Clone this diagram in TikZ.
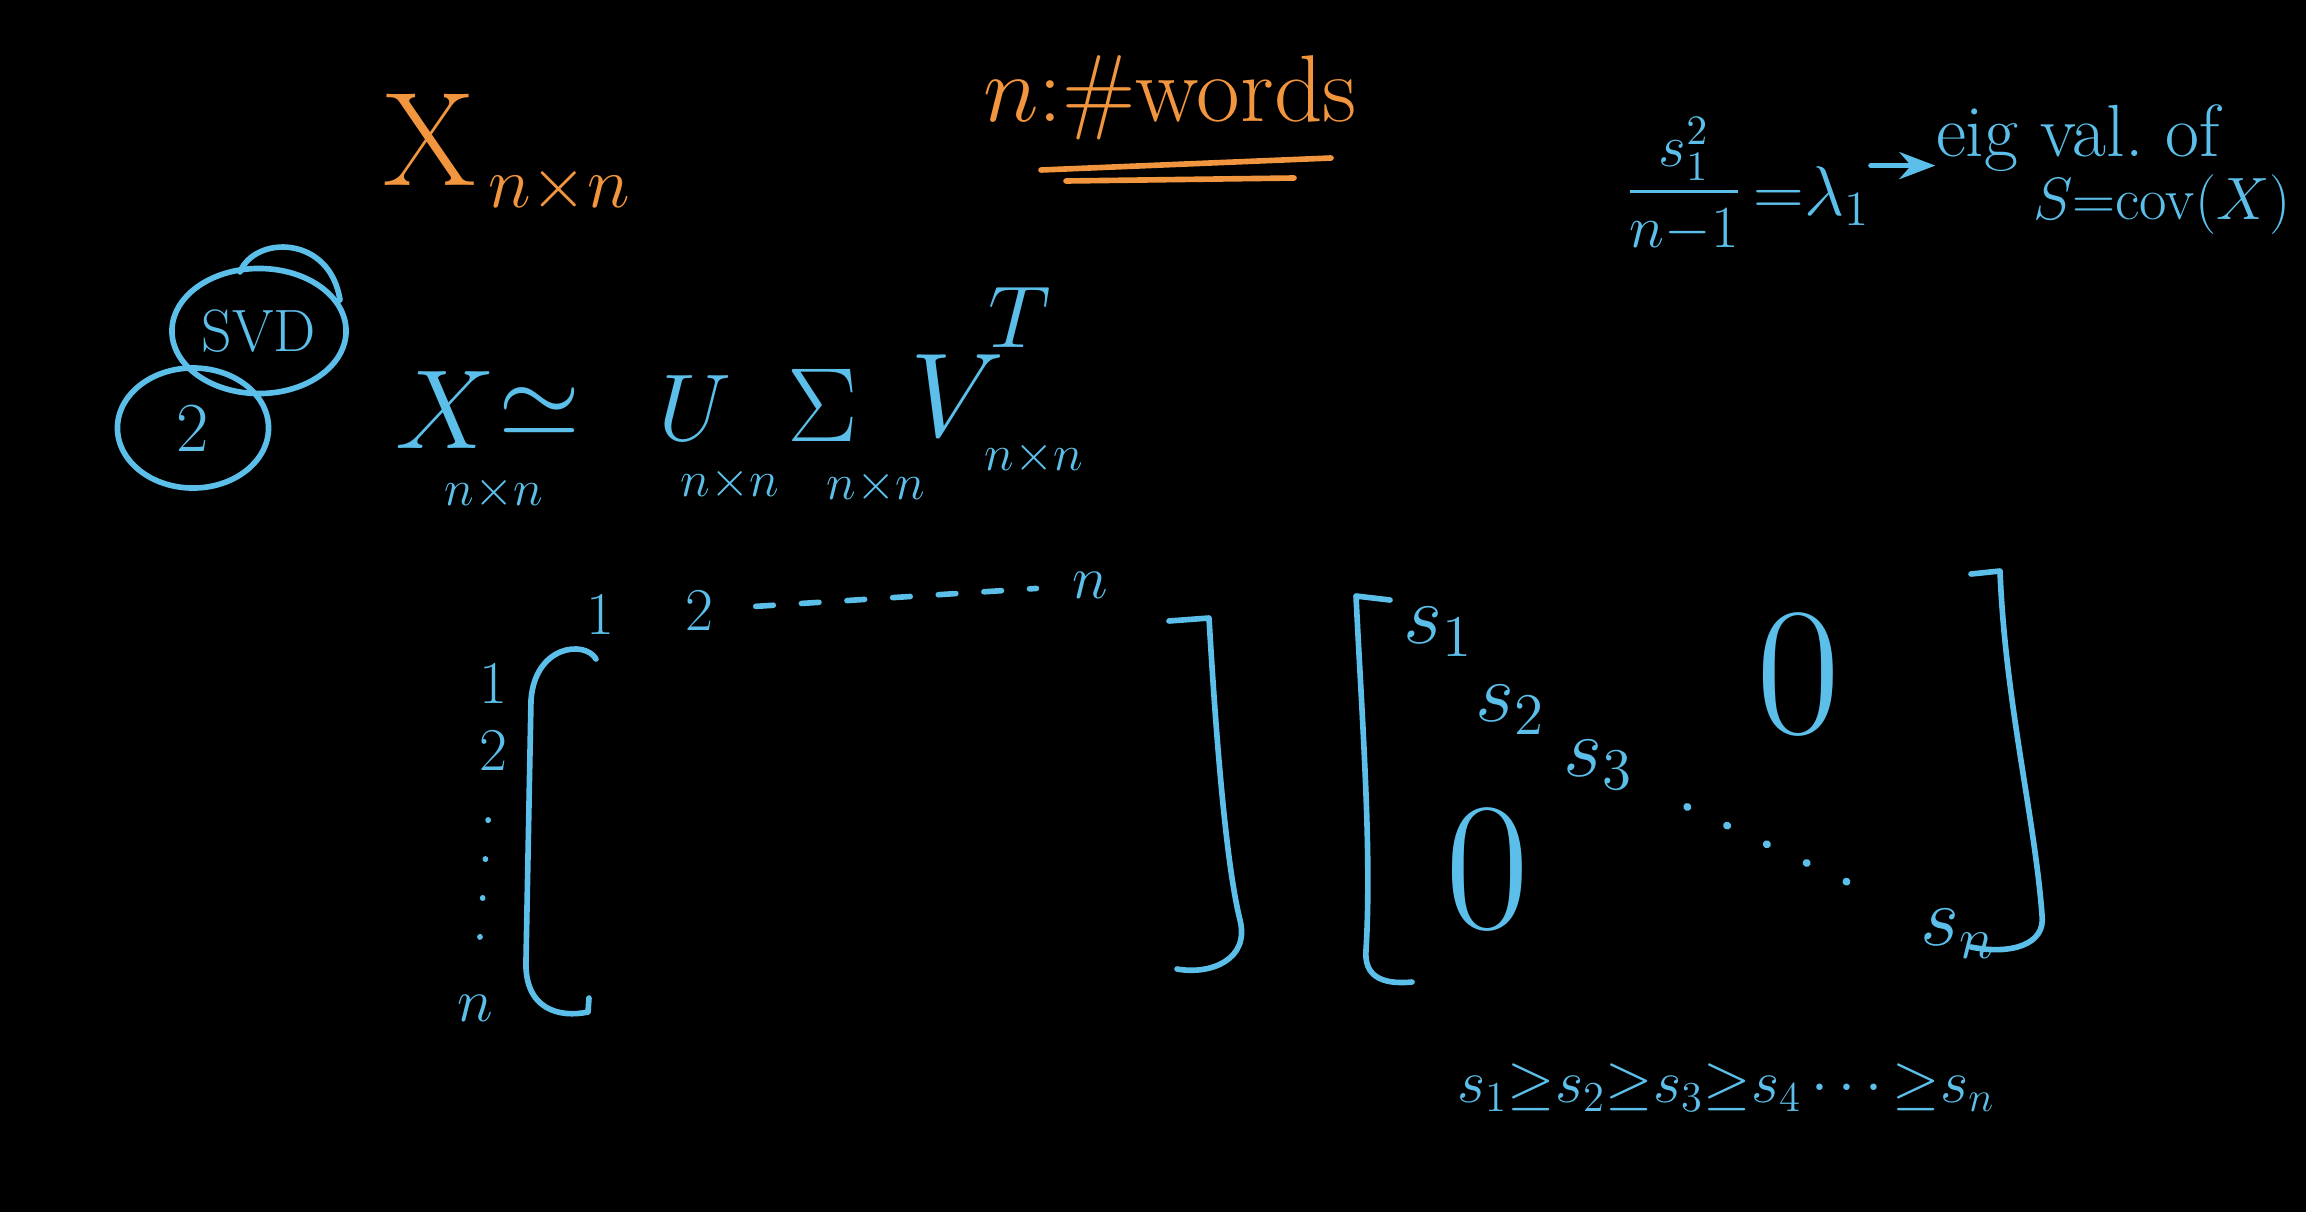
\RequirePackage{fix-cm}
\documentclass[tikz,border=0pt]{standalone}
\usepackage{amsmath,amssymb}
\usetikzlibrary{arrows.meta,positioning,shapes.geometric,calc}
\definecolor{chalkblue}{HTML}{5CBFEA}
\definecolor{chalkorange}{HTML}{F2953F}

\begin{document}
\begin{tikzpicture}[x=0.01cm, y=-0.01cm,
  ink/.style={chalkblue, line width=1.6pt, line cap=round, line join=round},
  oink/.style={chalkorange, line width=1.6pt, line cap=round},
  note/.style={text=chalkorange, inner sep=0pt},
  sym/.style={text=chalkblue, inner sep=0pt, font=\fontsize{25}{30}\selectfont},
  dims/.style={text=chalkblue, inner sep=0pt, font=\fontsize{14.4}{17}\selectfont},
  idx/.style={text=chalkblue, inner sep=0pt, font=\fontsize{17.3}{21}\selectfont},
  entry/.style={text=chalkblue, inner sep=0pt, font=\fontsize{24}{28}\selectfont},
  zero/.style={text=chalkblue, inner sep=0pt, font=\fontsize{52}{60}\selectfont},
  ring/.style={ellipse, draw=chalkblue, line width=1.6pt, text=chalkblue, inner sep=0pt},
]
  \fill[black] (0,0) rectangle (2306,1212);
  \useasboundingbox (0,0) rectangle (2306,1212);

  % orange heading
  \node[note, font=\fontsize{38}{44}\selectfont] (xtop) at (430,140) {$\mathrm{X}$};
  \node[note, font=\fontsize{20.7}{24}\selectfont] (xtopdim) at (559,189) {$n{\times}n$};
  \node[note, font=\fontsize{27}{32}\selectfont] (words) at (1170,98) {$n$:\#words};
  \draw[oink] (1041,170) -- (1331,158);
  \draw[oink] (1066,181) -- (1294,178);

  % top right
  \node[text=chalkblue, inner sep=0pt, font=\fontsize{17}{20}\selectfont] (ratio) at (1684,185) {$\dfrac{s_1^2}{n{-}1}$};
  \node[entry, font=\fontsize{20}{24}\selectfont] (lam) at (1812,196) {$\mathord{=}\lambda_1$};
  \node[entry, font=\fontsize{21}{25}\selectfont] (eig) at (2078,138) {eig val.\ of};
  \node[entry, font=\fontsize{17}{20}\selectfont] (cov) at (2162,205) {$S{=}\mathrm{cov}(X)$};
  \draw[ink, -{Stealth}] (lam.north east) -- (eig.west |- lam.north east);

  % SVD
  \node[ring, minimum width=1.74cm, minimum height=1.25cm, font=\fontsize{17}{20}\selectfont] (svd) at (259,331) {SVD};
  \node[ring, minimum width=1.51cm, minimum height=1.2cm, font=\fontsize{20}{24}\selectfont] (two) at (193,428) {2};
  \draw[ink] ($(svd)+(-19,-59)$) .. controls ($(svd)+(-4,-96)$) and ($(svd)+(71,-96)$) .. ($(svd)+(81,-31)$);

  % decomposition
  \node[sym, font=\fontsize{32}{38}\selectfont] (xeq) at (446,410) {$X$};
  \node[sym, font=\fontsize{30}{36}\selectfont] (approx) at (540,412) {$\simeq$};
  \node[sym, font=\fontsize{27}{32}\selectfont] (u) at (695,408) {$U$};
  \node[sym, font=\fontsize{30}{36}\selectfont] (sigma) at (823,405) {$\Sigma$};
  \node[sym, font=\fontsize{34}{40}\selectfont] (v) at (958,396) {$V$};
  \node[sym] (vt) at (1020,317) {$T$};
  \node[dims] (xdim) at (494,493) {$n{\times}n$};
  \node[dims] (udim) at (730,484) {$n{\times}n$};
  \node[dims] (sdim) at (876,487) {$n{\times}n$};
  \node[dims] (vdim) at (1034,458) {$n{\times}n$};

  % left matrix
  \draw[ink] (596,659) .. controls (585,640) and (535,645) .. (531,700)
    -- (526,960) .. controls (524,1010) and (560,1018) .. (588,1012) -- (589,998);
  \draw[ink] (1169,621) -- (1209,618) .. controls (1215,720) and (1225,860) .. (1240,920)
    .. controls (1250,960) and (1210,975) .. (1177,969);
  \node[idx] (c1) at (600,614) {1};
  \node[idx] (c2) at (699,610) {2};
  \node[idx] (cn) at (1090,585) {$n$};
  \node[idx] (r1) at (493,683) {1};
  \node[idx] (r2) at (493,750) {2};
  \node[idx] (rn) at (475,1008) {$n$};
  \draw[ink, dash pattern=on 5pt off 8pt, shorten <=12pt, shorten >=10pt] (c2) -- (cn);
  \draw[ink, dash pattern=on 0.1pt off 11pt, shorten <=14pt, shorten >=12pt] (r2) -- (rn);

  % sigma matrix
  \draw[ink] (1390,600) -- (1356,596) .. controls (1362,720) and (1372,850) .. (1366,950)
    .. controls (1364,975) and (1380,985) .. (1412,982);
  \draw[ink] (1971,574) -- (2000,571) .. controls (2005,700) and (2035,820) .. (2042,915)
    .. controls (2046,945) and (2010,955) .. (1971,947);
  \node[entry] (s1) at (1438,632) {$s_1$};
  \node[entry] (s2) at (1510,710) {$s_2$};
  \node[entry] (s3) at (1598,765) {$s_3$};
  \node[entry] (sn) at (1958,934) {$s_n$};
  \draw[ink, line width=2.2pt, dash pattern=on 0.1pt off 12.4pt, shorten <=28pt, shorten >=34pt] (s3.center) -- (sn.center);
  \node[zero] (zup) at (1798,675) {0};
  \node[zero] (zlow) at (1487,870) {0};

  \node[entry, font=\fontsize{17.3}{21}\selectfont] (order) at (1726,1088)
    {$s_1{\geq}s_2{\geq}s_3{\geq}s_4\cdots{\geq}s_n$};
\end{tikzpicture}
\end{document}
